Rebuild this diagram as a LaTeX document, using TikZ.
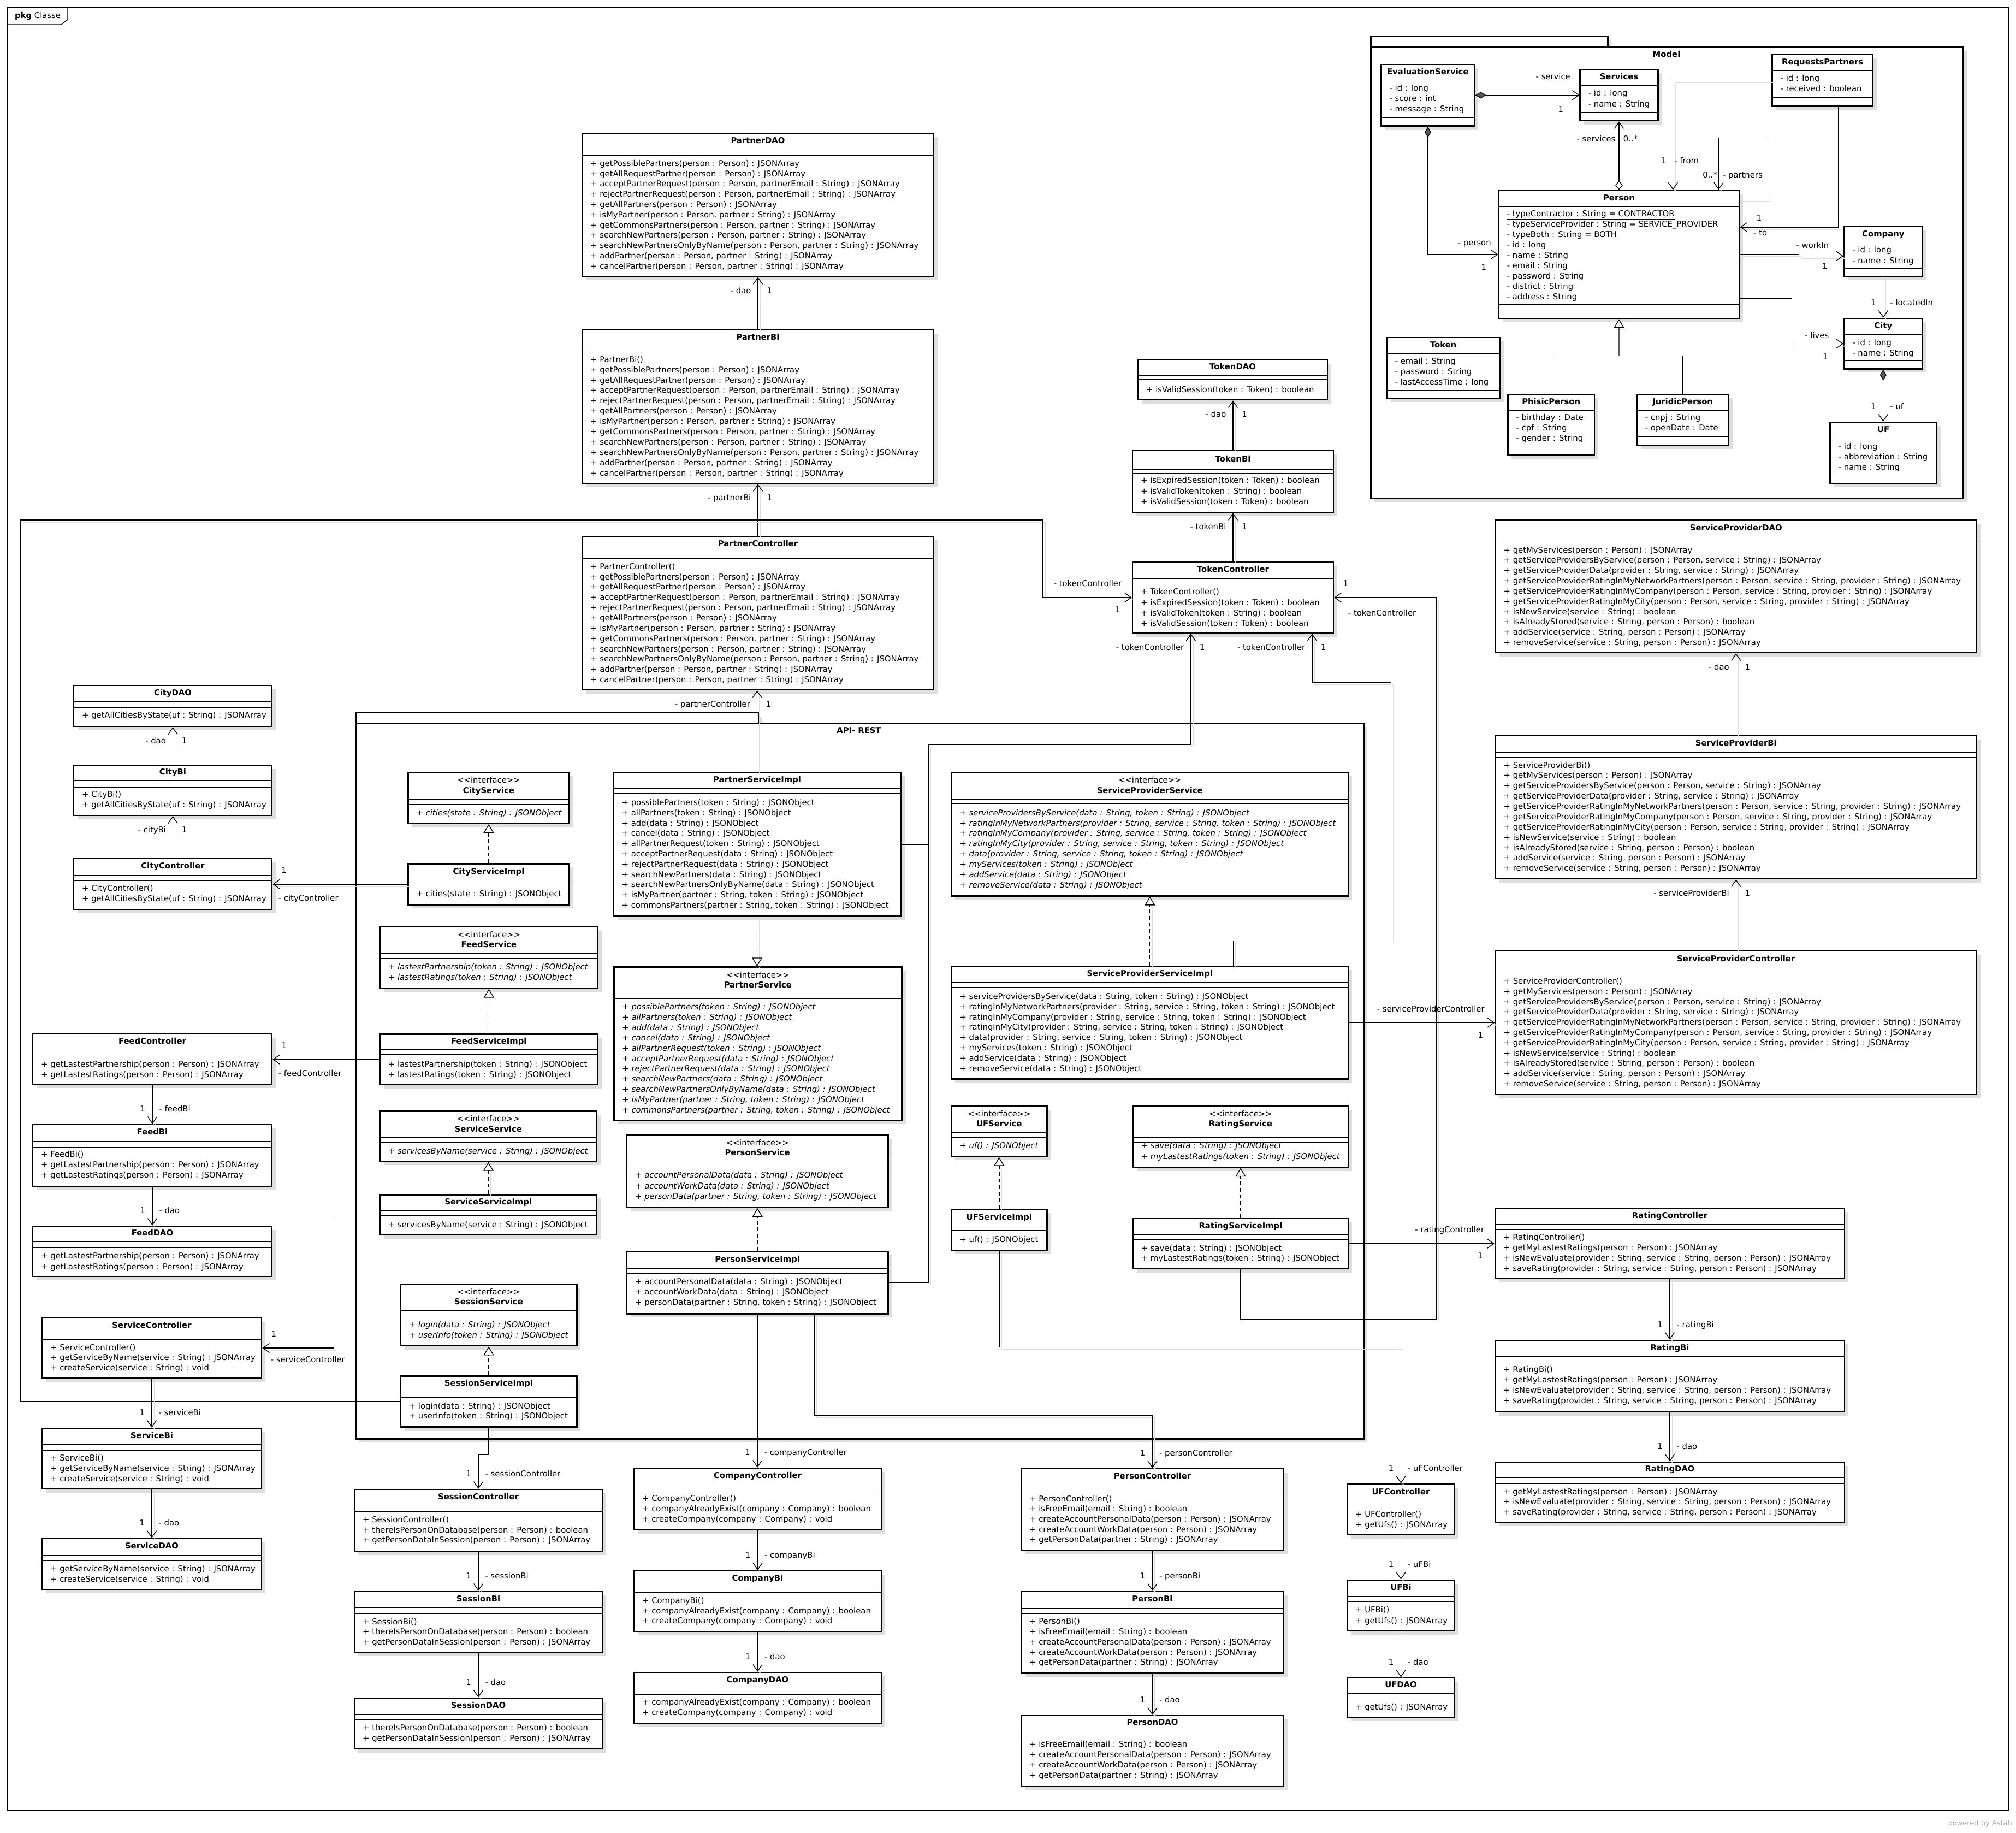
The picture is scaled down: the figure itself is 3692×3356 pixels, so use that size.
\documentclass[tikz,border=0pt]{standalone}
\usepackage{fontspec}
\setmainfont{DejaVu Sans}
\usetikzlibrary{arrows.meta,shadows}

\newcommand{\umlfont}{\fontsize{14.8}{18}\selectfont}
\newcommand{\umlclass}[8]{%
  \node[classbox, minimum width=#4pt-#2pt, minimum height=#5pt-#3pt] (#1) at ({(#2+#4)/2},{(#3+#5)/2}) {};
  \draw[sepline] (#2,#6) -- (#4,#6);
  \draw[sepline] (#2,#7) -- (#4,#7);
  \node[nametext] (#1-t) at ({(#2+#4)/2},{(#3+#6)/2}) {#8};
}
\newcommand{\umliface}[8]{%
  \node[classbox, minimum width=#4pt-#2pt, minimum height=#5pt-#3pt] (#1) at ({(#2+#4)/2},{(#3+#5)/2}) {};
  \draw[sepline] (#2,#6) -- (#4,#6);
  \draw[sepline] (#2,#7) -- (#4,#7);
  \node[stereotext] (#1-s) at ({(#2+#4)/2},{#3+15.5}) {<{}<interface>{}>};
  \node[nametext] (#1-t) at ({(#2+#4)/2},{#3+34}) {#8};
}
\newcommand{\umllines}[6]{%
  \foreach \op [count=\i] in {#6}
    \node[#5] (#1-\i) at ({#2+15},{#3+#4*(\i-1)}) {\op};
}

\begin{document}
\begin{tikzpicture}[x=1pt, y=-1pt,
    classbox/.style={draw, line width=2.6pt, fill=white, inner sep=0pt,
      drop shadow={shadow xshift=7pt, shadow yshift=-7pt, fill=black!13, opacity=1}},
    sepline/.style={line width=1pt},
    nametext/.style={font=\umlfont\bfseries, inner sep=0pt, text height=10.8pt, text depth=3pt},
    stereotext/.style={font=\umlfont, inner sep=0pt, text height=10.8pt, text depth=3pt},
    optext/.style={font=\umlfont, anchor=west, inner sep=0pt, text height=10.8pt, text depth=3pt},
    abstext/.style={optext, font=\umlfont\itshape},
    lbltext/.style={font=\umlfont, inner sep=0pt, text height=10.8pt, text depth=3pt},
    conn/.style={line width=1.3pt, preaction={draw=black!13, transform canvas={shift={(4pt,-4pt)}}}},
    assoc/.style={conn, -{Straight Barb[length=12pt, width=17pt]}},
    realize/.style={conn, dash pattern=on 7pt off 5pt, -{Triangle[open, length=16pt, width=19pt]}},
    gener/.style={conn, -{Triangle[open, length=16pt, width=19pt]}},
    compo/.style={line width=1.3pt, {Diamond[fill=black!65, length=20pt, width=12pt]}-{Straight Barb[length=12pt, width=17pt]}},
    aggr/.style={line width=1.3pt, {Diamond[open, length=17pt, width=14pt]}-{Straight Barb[length=12pt, width=17pt]}},
    upname/.style={lbltext, pos=1, anchor=east, xshift=-12pt, yshift=-26pt},
    upmult/.style={lbltext, pos=1, xshift=21pt, yshift=-26pt},
    downmult/.style={lbltext, pos=1, xshift=-18pt, yshift=26pt},
    downname/.style={lbltext, pos=1, anchor=west, xshift=12pt, yshift=26pt},
    leftmult/.style={lbltext, pos=1, xshift=21pt, yshift=24pt},
    leftname/.style={lbltext, pos=1, anchor=west, xshift=10pt, yshift=-27pt},
    rightname/.style={lbltext, pos=1, anchor=east, xshift=-18pt, yshift=24pt},
    rightmult/.style={lbltext, pos=1, xshift=-26pt, yshift=-24pt},
    endlbl/.style 2 args={lbltext, pos=1, xshift=#1, yshift=#2}]

  \useasboundingbox (0,0) rectangle (3692,3356);
  \draw[line width=1.3pt] (13,13.5) rectangle (3678,3314);
  \draw[line width=1.3pt] (13,45) -- (112,45) -- (124,36) -- (124,13.5);
  \node[lbltext, anchor=west] (frametitle) at (27,30) {\textbf{pkg} Classe};
  \node[lbltext, anchor=east, text=black!35, font=\fontsize{13}{15}\selectfont] (astahnote) at (3685,3339) {powered by Astah};

  \node[classbox, minimum width=434pt, minimum height=20pt, anchor=north west] (modeltab) at (2509,65) {};
  \node[classbox, minimum width=1085pt, minimum height=826pt, anchor=north west] (model) at (2509,85) {};
  \node[nametext] (modeltitle) at (3052,101) {Model};
  \node[classbox, minimum width=738pt, minimum height=20pt, anchor=north west] (apitab) at (650,1303.5) {};
  \node[classbox, minimum width=1846pt, minimum height=1310pt, anchor=north west] (api) at (650,1323) {};
  \node[nametext] (apititle) at (1573,1339) {API- REST};

  \umlclass{EvaluationService}{2529.4}{118}{2700.3}{230.6}{146.8}{215}{EvaluationService}
  \umllines{EvaluationService}{2529.4}{162.8}{19}{optext}{{- id : long}, {- score : int}, {- message : String}}
  \umlclass{Services}{2893.7}{127.2}{3036.2}{220.8}{156.5}{205}{Services}
  \umllines{Services}{2893.7}{172}{19.5}{optext}{{- id : long}, {- name : String}}
  \umlclass{RequestsPartners}{3245.6}{99.7}{3429.5}{193.8}{130}{178}{RequestsPartners}
  \umllines{RequestsPartners}{3245.6}{145}{19}{optext}{{- id : long}, {- received : boolean}}
  \umlclass{Person}{2744.6}{348.8}{3185.3}{583}{378}{557.7}{Person}
  \umllines{Person}{2744.6}{393}{18.94}{optext}{{\underline{- typeContractor : String = CONTRACTOR}},
    {\underline{- typeServiceProvider : String = SERVICE\_PROVIDER}}, {\underline{- typeBoth : String = BOTH}},
    {- id : long}, {- name : String}, {- email : String}, {- password : String}, {- district : String}, {- address : String}}
  \umlclass{Company}{3377.2}{414.2}{3520.4}{506}{444}{491}{Company}
  \umllines{Company}{3377.2}{459}{19.5}{optext}{{- id : long}, {- name : String}}
  \umlclass{City}{3377.2}{583}{3520.4}{675.4}{612}{660}{City}
  \umllines{City}{3377.2}{628.3}{19}{optext}{{- id : long}, {- name : String}}
  \umlclass{Token}{2539.6}{618}{2746.8}{729.4}{647}{714.4}{Token}
  \umllines{Token}{2539.6}{662.2}{19}{optext}{{- email : String}, {- password : String}, {- lastAccessTime : long}}
  \umlclass{PhisicPerson}{2761.4}{722}{2919.9}{833.3}{751.7}{818.9}{PhisicPerson}
  \umllines{PhisicPerson}{2761.4}{766}{19}{optext}{{- birthday : Date}, {- cpf : String}, {- gender : String}}
  \umlclass{JuridicPerson}{2997.7}{722}{3165.6}{815}{751.7}{799.4}{JuridicPerson}
  \umllines{JuridicPerson}{2997.7}{766}{19}{optext}{{- cnpj : String}, {- openDate : Date}}
  \umlclass{UF}{3351.7}{773}{3546.6}{885}{803}{869.4}{UF}
  \umllines{UF}{3351.7}{818.3}{19}{optext}{{- id : long}, {- abbreviation : String}, {- name : String}}

  \umlclass{PartnerDAO}{1066}{244}{1710}{506}{274}{284}{PartnerDAO}
  \umllines{PartnerDAO}{1066}{300.3}{18.82}{optext}{{+ getPossiblePartners(person : Person) : JSONArray},
    {+ getAllRequestPartner(person : Person) : JSONArray},
    {+ acceptPartnerRequest(person : Person, partnerEmail : String) : JSONArray},
    {+ rejectPartnerRequest(person : Person, partnerEmail : String) : JSONArray},
    {+ getAllPartners(person : Person) : JSONArray},
    {+ isMyPartner(person : Person, partner : String) : JSONArray},
    {+ getCommonsPartners(person : Person, partner : String) : JSONArray},
    {+ searchNewPartners(person : Person, partner : String) : JSONArray},
    {+ searchNewPartnersOnlyByName(person : Person, partner : String) : JSONArray},
    {+ addPartner(person : Person, partner : String) : JSONArray},
    {+ cancelPartner(person : Person, partner : String) : JSONArray}}
  \umlclass{PartnerBi}{1066}{604}{1710}{885}{633}{644}{PartnerBi}
  \umllines{PartnerBi}{1066}{659.3}{18.93}{optext}{{+ PartnerBi()},
    {+ getPossiblePartners(person : Person) : JSONArray},
    {+ getAllRequestPartner(person : Person) : JSONArray},
    {+ acceptPartnerRequest(person : Person, partnerEmail : String) : JSONArray},
    {+ rejectPartnerRequest(person : Person, partnerEmail : String) : JSONArray},
    {+ getAllPartners(person : Person) : JSONArray},
    {+ isMyPartner(person : Person, partner : String) : JSONArray},
    {+ getCommonsPartners(person : Person, partner : String) : JSONArray},
    {+ searchNewPartners(person : Person, partner : String) : JSONArray},
    {+ searchNewPartnersOnlyByName(person : Person, partner : String) : JSONArray},
    {+ addPartner(person : Person, partner : String) : JSONArray},
    {+ cancelPartner(person : Person, partner : String) : JSONArray}}
  \umlclass{PartnerController}{1066}{982}{1710}{1263}{1012}{1022}{PartnerController}
  \umllines{PartnerController}{1066}{1038.3}{18.85}{optext}{{+ PartnerController()},
    {+ getPossiblePartners(person : Person) : JSONArray},
    {+ getAllRequestPartner(person : Person) : JSONArray},
    {+ acceptPartnerRequest(person : Person, partnerEmail : String) : JSONArray},
    {+ rejectPartnerRequest(person : Person, partnerEmail : String) : JSONArray},
    {+ getAllPartners(person : Person) : JSONArray},
    {+ isMyPartner(person : Person, partner : String) : JSONArray},
    {+ getCommonsPartners(person : Person, partner : String) : JSONArray},
    {+ searchNewPartners(person : Person, partner : String) : JSONArray},
    {+ searchNewPartnersOnlyByName(person : Person, partner : String) : JSONArray},
    {+ addPartner(person : Person, partner : String) : JSONArray},
    {+ cancelPartner(person : Person, partner : String) : JSONArray}}

  \umlclass{TokenDAO}{2084}{659}{2431}{732}{687}{694}{TokenDAO}
  \umllines{TokenDAO}{2084}{714.3}{19}{optext}{{+ isValidSession(token : Token) : boolean}}
  \umlclass{TokenBi}{2074}{825}{2442}{938}{859}{866}{TokenBi}
  \umllines{TokenBi}{2074}{881}{19.1}{optext}{{+ isExpiredSession(token : Token) : boolean},
    {+ isValidToken(token : String) : boolean}, {+ isValidSession(token : Token) : boolean}}
  \umlclass{TokenController}{2074}{1029}{2442}{1159}{1059}{1069}{TokenController}
  \umllines{TokenController}{2074}{1085}{19.1}{optext}{{+ TokenController()}, {+ isExpiredSession(token : Token) : boolean},
    {+ isValidToken(token : String) : boolean}, {+ isValidSession(token : Token) : boolean}}

  \umlclass{CityDAO}{135}{1255}{498}{1330}{1284}{1295}{CityDAO}
  \umllines{CityDAO}{135}{1310.9}{19}{optext}{{+ getAllCitiesByState(uf : String) : JSONArray}}
  \umlclass{CityBi}{135}{1401}{498}{1493}{1429}{1441}{CityBi}
  \umllines{CityBi}{135}{1456}{19}{optext}{{+ CityBi()}, {+ getAllCitiesByState(uf : String) : JSONArray}}
  \umlclass{CityController}{135}{1572}{498}{1665}{1602}{1612.5}{CityController}
  \umllines{CityController}{135}{1628}{18.9}{optext}{{+ CityController()}, {+ getAllCitiesByState(uf : String) : JSONArray}}
  \umlclass{FeedController}{60}{1893}{498}{1985}{1922}{1933}{FeedController}
  \umllines{FeedController}{60}{1949.2}{19}{optext}{{+ getLastestPartnership(person : Person) : JSONArray},
    {+ getLastestRatings(person : Person) : JSONArray}}
  \umlclass{FeedBi}{60}{2059}{498}{2172}{2089}{2100}{FeedBi}
  \umllines{FeedBi}{60}{2114.8}{18.95}{optext}{{+ FeedBi()}, {+ getLastestPartnership(person : Person) : JSONArray},
    {+ getLastestRatings(person : Person) : JSONArray}}
  \umlclass{FeedDAO}{60}{2245}{498}{2337}{2273}{2284}{FeedDAO}
  \umllines{FeedDAO}{60}{2300.7}{19.5}{optext}{{+ getLastestPartnership(person : Person) : JSONArray},
    {+ getLastestRatings(person : Person) : JSONArray}}
  \umlclass{ServiceController}{77}{2413}{479}{2523}{2442}{2452}{ServiceController}
  \umllines{ServiceController}{77}{2468.4}{18.5}{optext}{{+ ServiceController()},
    {+ getServiceByName(service : String) : JSONArray}, {+ createService(service : String) : void}}
  \umlclass{ServiceBi}{77}{2615}{479}{2726}{2644}{2655}{ServiceBi}
  \umllines{ServiceBi}{77}{2670.5}{18.85}{optext}{{+ ServiceBi()},
    {+ getServiceByName(service : String) : JSONArray}, {+ createService(service : String) : void}}
  \umlclass{ServiceDAO}{77}{2817}{479}{2910}{2847}{2857}{ServiceDAO}
  \umllines{ServiceDAO}{77}{2873.3}{19.2}{optext}{{+ getServiceByName(service : String) : JSONArray},
    {+ createService(service : String) : void}}

  \umlclass{SessionController}{649}{2727}{1103}{2840}{2757}{2767.5}{SessionController}
  \umllines{SessionController}{649}{2783.4}{18.8}{optext}{{+ SessionController()},
    {+ thereIsPersonOnDatabase(person : Person) : boolean}, {+ getPersonDataInSession(person : Person) : JSONArray}}
  \umlclass{SessionBi}{649}{2914}{1103}{3025}{2943.5}{2954.4}{SessionBi}
  \umllines{SessionBi}{649}{2970.3}{18.5}{optext}{{+ SessionBi()},
    {+ thereIsPersonOnDatabase(person : Person) : boolean}, {+ getPersonDataInSession(person : Person) : JSONArray}}
  \umlclass{SessionDAO}{649}{3109}{1103}{3202}{3139}{3148}{SessionDAO}
  \umllines{SessionDAO}{649}{3164.2}{19.1}{optext}{{+ thereIsPersonOnDatabase(person : Person) : boolean},
    {+ getPersonDataInSession(person : Person) : JSONArray}}
  \umlclass{CompanyController}{1161}{2688}{1614}{2801}{2718}{2729}{CompanyController}
  \umllines{CompanyController}{1161}{2744.5}{19.15}{optext}{{+ CompanyController()},
    {+ companyAlreadyExist(company : Company) : boolean}, {+ createCompany(company : Company) : void}}
  \umlclass{CompanyBi}{1161}{2876}{1614}{2987}{2905}{2915}{CompanyBi}
  \umllines{CompanyBi}{1161}{2931.4}{18.8}{optext}{{+ CompanyBi()},
    {+ companyAlreadyExist(company : Company) : boolean}, {+ createCompany(company : Company) : void}}
  \umlclass{CompanyDAO}{1161}{3062}{1614}{3155}{3092}{3102}{CompanyDAO}
  \umllines{CompanyDAO}{1161}{3117.6}{19.2}{optext}{{+ companyAlreadyExist(company : Company) : boolean},
    {+ createCompany(company : Company) : void}}
  \umlclass{PersonController}{1870}{2689}{2351}{2838}{2718}{2729}{PersonController}
  \umllines{PersonController}{1870}{2745.2}{18.65}{optext}{{+ PersonController()}, {+ isFreeEmail(email : String) : boolean},
    {+ createAccountPersonalData(person : Person) : JSONArray}, {+ createAccountWorkData(person : Person) : JSONArray},
    {+ getPersonData(partner : String) : JSONArray}}
  \umlclass{PersonBi}{1870}{2914}{2351}{3063}{2944}{2954}{PersonBi}
  \umllines{PersonBi}{1870}{2969.7}{18.8}{optext}{{+ PersonBi()}, {+ isFreeEmail(email : String) : boolean},
    {+ createAccountPersonalData(person : Person) : JSONArray}, {+ createAccountWorkData(person : Person) : JSONArray},
    {+ getPersonData(partner : String) : JSONArray}}
  \umlclass{PersonDAO}{1870}{3141}{2351}{3271}{3169}{3180}{PersonDAO}
  \umllines{PersonDAO}{1870}{3194.8}{18.93}{optext}{{+ isFreeEmail(email : String) : boolean},
    {+ createAccountPersonalData(person : Person) : JSONArray}, {+ createAccountWorkData(person : Person) : JSONArray},
    {+ getPersonData(partner : String) : JSONArray}}
  \umlclass{UFController}{2467}{2717}{2664}{2810}{2748}{2757}{UFController}
  \umllines{UFController}{2467}{2773.5}{18.9}{optext}{{+ UFController()}, {+ getUfs() : JSONArray}}
  \umlclass{UFBi}{2467}{2893}{2664}{2986}{2922}{2932}{UFBi}
  \umllines{UFBi}{2467}{2948.9}{19.6}{optext}{{+ UFBi()}, {+ getUfs() : JSONArray}}
  \umlclass{UFDAO}{2467}{3072}{2664}{3144}{3100}{3112}{UFDAO}
  \umllines{UFDAO}{2467}{3126.3}{19}{optext}{{+ getUfs() : JSONArray}}

  \umlclass{RatingController}{2738}{2212}{3378}{2341}{2241}{2251}{RatingController}
  \umllines{RatingController}{2738}{2267}{18.7}{optext}{{+ RatingController()}, {+ getMyLastestRatings(person : Person) : JSONArray},
    {+ isNewEvaluate(provider : String, service : String, person : Person) : JSONArray},
    {+ saveRating(provider : String, service : String, person : Person) : JSONArray}}
  \umlclass{RatingBi}{2738}{2454}{3378}{2585}{2483}{2493}{RatingBi}
  \umllines{RatingBi}{2738}{2509}{18.93}{optext}{{+ RatingBi()}, {+ getMyLastestRatings(person : Person) : JSONArray},
    {+ isNewEvaluate(provider : String, service : String, person : Person) : JSONArray},
    {+ saveRating(provider : String, service : String, person : Person) : JSONArray}}
  \umlclass{RatingDAO}{2738}{2677}{3378}{2787}{2705}{2716}{RatingDAO}
  \umllines{RatingDAO}{2738}{2732.1}{18.95}{optext}{{+ getMyLastestRatings(person : Person) : JSONArray},
    {+ isNewEvaluate(provider : String, service : String, person : Person) : JSONArray},
    {+ saveRating(provider : String, service : String, person : Person) : JSONArray}}

  \umlclass{ServiceProviderDAO}{2738.5}{952}{3620}{1195}{983}{992}{ServiceProviderDAO}
  \umllines{ServiceProviderDAO}{2738.5}{1008.2}{18.82}{optext}{{+ getMyServices(person : Person) : JSONArray},
    {+ getServiceProvidersByService(person : Person, service : String) : JSONArray},
    {+ getServiceProviderData(provider : String, service : String) : JSONArray},
    {+ getServiceProviderRatingInMyNetworkPartners(person : Person, service : String, provider : String) : JSONArray},
    {+ getServiceProviderRatingInMyCompany(person : Person, service : String, provider : String) : JSONArray},
    {+ getServiceProviderRatingInMyCity(person : Person, service : String, provider : String) : JSONArray},
    {+ isNewService(service : String) : boolean},
    {+ isAlreadyStored(service : String, person : Person) : boolean},
    {+ addService(service : String, person : Person) : JSONArray},
    {+ removeService(service : String, person : Person) : JSONArray}}
  \umlclass{ServiceProviderBi}{2738.5}{1347}{3620}{1609}{1377}{1386}{ServiceProviderBi}
  \umllines{ServiceProviderBi}{2738.5}{1402.2}{18.87}{optext}{{+ ServiceProviderBi()},
    {+ getMyServices(person : Person) : JSONArray},
    {+ getServiceProvidersByService(person : Person, service : String) : JSONArray},
    {+ getServiceProviderData(provider : String, service : String) : JSONArray},
    {+ getServiceProviderRatingInMyNetworkPartners(person : Person, service : String, provider : String) : JSONArray},
    {+ getServiceProviderRatingInMyCompany(person : Person, service : String, provider : String) : JSONArray},
    {+ getServiceProviderRatingInMyCity(person : Person, service : String, provider : String) : JSONArray},
    {+ isNewService(service : String) : boolean},
    {+ isAlreadyStored(service : String, person : Person) : boolean},
    {+ addService(service : String, person : Person) : JSONArray},
    {+ removeService(service : String, person : Person) : JSONArray}}
  \umlclass{ServiceProviderController}{2738.5}{1741}{3620}{2004}{1772}{1781}{ServiceProviderController}
  \umllines{ServiceProviderController}{2738.5}{1797.5}{18.8}{optext}{{+ ServiceProviderController()},
    {+ getMyServices(person : Person) : JSONArray},
    {+ getServiceProvidersByService(person : Person, service : String) : JSONArray},
    {+ getServiceProviderData(provider : String, service : String) : JSONArray},
    {+ getServiceProviderRatingInMyNetworkPartners(person : Person, service : String, provider : String) : JSONArray},
    {+ getServiceProviderRatingInMyCompany(person : Person, service : String, provider : String) : JSONArray},
    {+ getServiceProviderRatingInMyCity(person : Person, service : String, provider : String) : JSONArray},
    {+ isNewService(service : String) : boolean},
    {+ isAlreadyStored(service : String, person : Person) : boolean},
    {+ addService(service : String, person : Person) : JSONArray},
    {+ removeService(service : String, person : Person) : JSONArray}}

  \umliface{CityService}{747.4}{1414.3}{1042.6}{1507.6}{1463.5}{1472.6}{CityService}
  \umllines{CityService}{747.4}{1489.4}{19}{abstext}{{+ cities(state : String) : JSONObject}}
  \umlclass{CityServiceImpl}{747.4}{1581.3}{1042.6}{1656.4}{1611}{1620.6}{CityServiceImpl}
  \umllines{CityServiceImpl}{747.4}{1637.4}{19}{optext}{{+ cities(state : String) : JSONObject}}
  \umliface{FeedService}{695.7}{1697}{1095}{1809.3}{1745.5}{1754.6}{FeedService}
  \umllines{FeedService}{695.7}{1772}{19}{abstext}{{+ lastestPartnership(token : String) : JSONObject},
    {+ lastestRatings(token : String) : JSONObject}}
  \umlclass{FeedServiceImpl}{695.7}{1893.5}{1095}{1986}{1921.5}{1930.7}{FeedServiceImpl}
  \umllines{FeedServiceImpl}{695.7}{1949.6}{18.9}{optext}{{+ lastestPartnership(token : String) : JSONObject},
    {+ lastestRatings(token : String) : JSONObject}}
  \umliface{ServiceService}{695.7}{2034.5}{1093}{2126.4}{2082.2}{2091.3}{ServiceService}
  \umllines{ServiceService}{695.7}{2108.1}{19}{abstext}{{+ servicesByName(service : String) : JSONObject}}
  \umlclass{ServiceServiceImpl}{695.7}{2187.4}{1093}{2261}{2216.2}{2225.3}{ServiceServiceImpl}
  \umllines{ServiceServiceImpl}{695.7}{2243.5}{19}{optext}{{+ servicesByName(service : String) : JSONObject}}
  \umliface{SessionService}{733.6}{2351}{1056.4}{2464}{2399.5}{2409}{SessionService}
  \umllines{SessionService}{733.6}{2426.3}{19.1}{abstext}{{+ login(data : String) : JSONObject},
    {+ userInfo(token : String) : JSONObject}}
  \umlclass{SessionServiceImpl}{733.6}{2519.4}{1056.4}{2612.5}{2548}{2558.3}{SessionServiceImpl}
  \umllines{SessionServiceImpl}{733.6}{2575.5}{18.5}{optext}{{+ login(data : String) : JSONObject},
    {+ userInfo(token : String) : JSONObject}}
  \umlclass{PartnerServiceImpl}{1123.5}{1414.3}{1649.5}{1677.4}{1443.8}{1452.9}{PartnerServiceImpl}
  \umllines{PartnerServiceImpl}{1123.5}{1470.5}{18.8}{optext}{{+ possiblePartners(token : String) : JSONObject},
    {+ allPartners(token : String) : JSONObject}, {+ add(data : String) : JSONObject},
    {+ cancel(data : String) : JSONObject}, {+ allPartnerRequest(token : String) : JSONObject},
    {+ acceptPartnerRequest(data : String) : JSONObject}, {+ rejectPartnerRequest(data : String) : JSONObject},
    {+ searchNewPartners(data : String) : JSONObject}, {+ searchNewPartnersOnlyByName(data : String) : JSONObject},
    {+ isMyPartner(partner : String, token : String) : JSONObject},
    {+ commonsPartners(partner : String, token : String) : JSONObject}}
  \umliface{PartnerService}{1124.2}{1770.7}{1651.5}{2051.3}{1819.1}{1828.2}{PartnerService}
  \umllines{PartnerService}{1124.2}{1844.4}{18.94}{abstext}{{+ possiblePartners(token : String) : JSONObject},
    {+ allPartners(token : String) : JSONObject}, {+ add(data : String) : JSONObject},
    {+ cancel(data : String) : JSONObject}, {+ allPartnerRequest(token : String) : JSONObject},
    {+ acceptPartnerRequest(data : String) : JSONObject}, {+ rejectPartnerRequest(data : String) : JSONObject},
    {+ searchNewPartners(data : String) : JSONObject}, {+ searchNewPartnersOnlyByName(data : String) : JSONObject},
    {+ isMyPartner(partner : String, token : String) : JSONObject},
    {+ commonsPartners(partner : String, token : String) : JSONObject}}
  \umliface{PersonService}{1148}{2078}{1626.3}{2210.6}{2127.8}{2136.2}{PersonService}
  \umllines{PersonService}{1148}{2153}{19.3}{abstext}{{+ accountPersonalData(data : String) : JSONObject},
    {+ accountWorkData(data : String) : JSONObject}, {+ personData(partner : String, token : String) : JSONObject}}
  \umlclass{PersonServiceImpl}{1148}{2291.2}{1626.3}{2405.3}{2322}{2331.2}{PersonServiceImpl}
  \umllines{PersonServiceImpl}{1148}{2347.4}{18.95}{optext}{{+ accountPersonalData(data : String) : JSONObject},
    {+ accountWorkData(data : String) : JSONObject}, {+ personData(partner : String, token : String) : JSONObject}}
  \umliface{ServiceProviderService}{1742.3}{1414.3}{2469.3}{1640.2}{1463.5}{1471.9}{ServiceProviderService}
  \umllines{ServiceProviderService}{1742.3}{1489.4}{18.84}{abstext}{{+ serviceProvidersByService(data : String, token : String) : JSONObject},
    {+ ratingInMyNetworkPartners(provider : String, service : String, token : String) : JSONObject},
    {+ ratingInMyCompany(provider : String, service : String, token : String) : JSONObject},
    {+ ratingInMyCity(provider : String, service : String, token : String) : JSONObject},
    {+ data(provider : String, service : String, token : String) : JSONObject},
    {+ myServices(token : String) : JSONObject}, {+ addService(data : String) : JSONObject},
    {+ removeService(data : String) : JSONObject}}
  \umlclass{ServiceProviderServiceImpl}{1742.3}{1769.3}{2469.3}{1975.6}{1798.8}{1807.9}{ServiceProviderServiceImpl}
  \umllines{ServiceProviderServiceImpl}{1742.3}{1825.4}{18.84}{optext}{{+ serviceProvidersByService(data : String, token : String) : JSONObject},
    {+ ratingInMyNetworkPartners(provider : String, service : String, token : String) : JSONObject},
    {+ ratingInMyCompany(provider : String, service : String, token : String) : JSONObject},
    {+ ratingInMyCity(provider : String, service : String, token : String) : JSONObject},
    {+ data(provider : String, service : String, token : String) : JSONObject},
    {+ myServices(token : String) : JSONObject}, {+ addService(data : String) : JSONObject},
    {+ removeService(data : String) : JSONObject}}
  \umliface{UFService}{1742.3}{2024.7}{1917.4}{2117.3}{2073.8}{2082.2}{UFService}
  \umllines{UFService}{1742.3}{2099}{19}{abstext}{{+ uf() : JSONObject}}
  \umlclass{UFServiceImpl}{1742.3}{2214}{1917.4}{2289.1}{2244.2}{2252.6}{UFServiceImpl}
  \umllines{UFServiceImpl}{1742.3}{2270.2}{19}{optext}{{+ uf() : JSONObject}}
  \umliface{RatingService}{2074.6}{2024.7}{2469.3}{2136.9}{2082.9}{2091.3}{RatingService}
  \umllines{RatingService}{2074.6}{2099}{19.7}{abstext}{{+ save(data : String) : JSONObject},
    {+ myLastestRatings(token : String) : JSONObject}}
  \umlclass{RatingServiceImpl}{2074.6}{2230.9}{2469.3}{2322.8}{2260.4}{2269.5}{RatingServiceImpl}
  \umllines{RatingServiceImpl}{2074.6}{2286.3}{18.3}{optext}{{+ save(data : String) : JSONObject},
    {+ myLastestRatings(token : String) : JSONObject}}

  \coordinate (frombend) at (3063.8,146.8);
  \coordinate (ptA) at (3237.6,364.3);
  \coordinate (ptB) at (3147.4,252.4);
  \coordinate (tobend) at (3367,416);
  \coordinate (workA) at (3294.3,465.3);
  \coordinate (workB) at (3294.3,468.8);
  \coordinate (livesA) at (3281.2,546.8);
  \coordinate (genjoin) at (2965,651.3);
  \coordinate (svcbend) at (611.3,2468);
  \coordinate (sesbend) at (876,2662.9);
  \coordinate (tokA) at (37.7,952);
  \coordinate (tokB) at (1910,1094);
  \coordinate (psibend) at (1700,1363);
  \coordinate (tokC) at (2180.8,1363);
  \coordinate (spA) at (2258.4,1722.3);
  \coordinate (spC) at (2547.5,1249.3);
  \coordinate (spD) at (2402.9,1249.3);
  \coordinate (rtB) at (2630,2416);
  \coordinate (ufbend) at (2565.5,2466.5);
  \coordinate (pcbendA) at (1491.4,2591.5);

  \draw[compo] (EvaluationService.east) -- (Services.west |- EvaluationService.east)
    node[endlbl={-16pt}{33pt}, anchor=east] (serviceRole) {- service} node[endlbl={-34pt}{-27pt}] (serviceMult) {1};
  \draw[compo] (EvaluationService.south) |- (Person.west)
    node[endlbl={-12pt}{20pt}, anchor=east] (personRole) {- person} node[endlbl={-26pt}{-25pt}] (personMult) {1};
  \draw[aggr] (Person.north) -- (Services.south)
    node[endlbl={-6pt}{-33pt}, anchor=east] (servicesRole) {- services} node[endlbl={21pt}{-33pt}] (servicesMult) {0..*};
  \draw[assoc] (RequestsPartners.west |- frombend) -- (frombend) -- (Person.north -| frombend)
    node[endlbl={-18pt}{52pt}] (fromMult) {1} node[endlbl={2pt}{52pt}, anchor=west] (fromRole) {- from};
  \draw[assoc] (Person.east |- ptA) -- (ptA) |- (ptB) -- (Person.north -| ptB)
    node[endlbl={-16pt}{26pt}] (partnersMult) {0..*} node[endlbl={7pt}{26pt}, anchor=west] (partnersRole) {- partners};
  \draw[assoc] (RequestsPartners.south -| tobend) -- (tobend) -- (Person.east |- tobend)
    node[endlbl={35pt}{15pt}] (toMult) {1} node[endlbl={24pt}{-12pt}, anchor=west] (toRole) {- to};
  \draw[assoc] (Person.east |- workA) -- (workA) -- (workB) -- (Company.west |- workB)
    node[endlbl={-26pt}{18pt}, anchor=east] (workInRole) {- workIn} node[endlbl={-34pt}{-20pt}] (workInMult) {1};
  \draw[assoc] (Person.east |- livesA) -- (livesA) |- (City.west)
    node[endlbl={-26pt}{14pt}, anchor=east] (livesRole) {- lives} node[endlbl={-33pt}{-25pt}] (livesMult) {1};
  \draw[assoc] (Company.south) -- (City.north)
    node[downmult] (locatedInMult) {1} node[downname] (locatedInRole) {- locatedIn};
  \draw[compo] (City.south) -- (UF.north -| City.south)
    node[downmult] (ufMult) {1} node[downname] (ufRole) {- uf};
  \draw[conn] (PhisicPerson.north) |- (genjoin) -| (JuridicPerson.north);
  \draw[gener] (genjoin) -- (Person.south);

  \draw[assoc] (PartnerBi.north) -- (PartnerDAO.south)
    node[upname] (partnerDaoRole) {- dao} node[upmult] (partnerDaoMult) {1};
  \draw[assoc] (PartnerController.north) -- (PartnerBi.south)
    node[upname] (partnerBiRole) {- partnerBi} node[upmult] (partnerBiMult) {1};
  \draw[assoc] (PartnerServiceImpl.north) -- (PartnerController.south -| PartnerServiceImpl.north)
    node[upname] (partnerCtrlRole) {- partnerController} node[upmult] (partnerCtrlMult) {1};
  \draw[assoc] (TokenBi.north) -- (TokenDAO.south -| TokenBi.north)
    node[upname] (tokenDaoRole) {- dao} node[upmult] (tokenDaoMult) {1};
  \draw[assoc] (TokenController.north) -- (TokenBi.south)
    node[upname] (tokenBiRole) {- tokenBi} node[upmult] (tokenBiMult) {1};
  \draw[assoc] (SessionServiceImpl.west) -| (tokA) -| (tokB) -- (TokenController.west)
    node[rightname] (tokenCtrlRoleA) {- tokenController} node[rightmult] (tokenCtrlMultA) {1};
  \draw[assoc] (PersonServiceImpl.east) -| (psibend) -- (tokC) -- (TokenController.south -| tokC);
  \draw[assoc] (PartnerServiceImpl.east) -| (psibend) -- (tokC) -- (TokenController.south -| tokC)
    node[upname] (tokenCtrlRoleB) {- tokenController} node[upmult] (tokenCtrlMultB) {1};
  \draw[assoc] (ServiceProviderServiceImpl.north -| spA) -- (spA) -| (spC) -- (spD) -- (TokenController.south -| spD)
    node[upname] (tokenCtrlRoleC) {- tokenController} node[upmult] (tokenCtrlMultC) {1};
  \draw[assoc] (RatingServiceImpl.south) |- (rtB) |- (TokenController.east)
    node[leftmult] (tokenCtrlMultD) {1} node[endlbl={25pt}{-30pt}, anchor=west] (tokenCtrlRoleD) {- tokenController};

  \draw[assoc] (CityBi.north) -- (CityDAO.south)
    node[upname] (cityDaoRole) {- dao} node[upmult] (cityDaoMult) {1};
  \draw[assoc] (CityController.north) -- (CityBi.south)
    node[upname] (cityBiRole) {- cityBi} node[upmult] (cityBiMult) {1};
  \draw[assoc] (CityServiceImpl.west) -- (CityController.east |- CityServiceImpl.west)
    node[leftmult] (cityCtrlMult) {1} node[leftname] (cityCtrlRole) {- cityController};
  \draw[assoc] (FeedServiceImpl.west) -- (FeedController.east |- FeedServiceImpl.west)
    node[leftmult] (feedCtrlMult) {1} node[leftname] (feedCtrlRole) {- feedController};
  \draw[assoc] (FeedController.south) -- (FeedBi.north)
    node[downmult] (feedBiMult) {1} node[downname] (feedBiRole) {- feedBi};
  \draw[assoc] (FeedBi.south) -- (FeedDAO.north)
    node[downmult] (feedDaoMult) {1} node[downname] (feedDaoRole) {- dao};
  \draw[assoc] (ServiceServiceImpl.west) -| (svcbend) -- (ServiceController.east)
    node[leftmult] (serviceCtrlMult) {1} node[endlbl={15pt}{-23pt}, anchor=west] (serviceCtrlRole) {- serviceController};
  \draw[assoc] (ServiceController.south) -- (ServiceBi.north)
    node[downmult] (serviceBiMult) {1} node[downname] (serviceBiRole) {- serviceBi};
  \draw[assoc] (ServiceBi.south) -- (ServiceDAO.north)
    node[downmult] (serviceDaoMult) {1} node[downname] (serviceDaoRole) {- dao};

  \draw[assoc] (SessionServiceImpl.south) |- (sesbend) -- (SessionController.north)
    node[downmult] (sessionCtrlMult) {1} node[downname] (sessionCtrlRole) {- sessionController};
  \draw[assoc] (SessionController.south) -- (SessionBi.north)
    node[downmult] (sessionBiMult) {1} node[downname] (sessionBiRole) {- sessionBi};
  \draw[assoc] (SessionBi.south) -- (SessionDAO.north)
    node[downmult] (sessionDaoMult) {1} node[downname] (sessionDaoRole) {- dao};
  \draw[assoc] (PersonServiceImpl.south) -- (CompanyController.north -| PersonServiceImpl.south)
    node[downmult] (companyCtrlMult) {1} node[downname] (companyCtrlRole) {- companyController};
  \draw[assoc] (CompanyController.south) -- (CompanyBi.north)
    node[downmult] (companyBiMult) {1} node[downname] (companyBiRole) {- companyBi};
  \draw[assoc] (CompanyBi.south) -- (CompanyDAO.north)
    node[downmult] (companyDaoMult) {1} node[downname] (companyDaoRole) {- dao};
  \draw[assoc] (PersonServiceImpl.south -| pcbendA) -- (pcbendA) -| (PersonController.north)
    node[downmult] (personCtrlMult) {1} node[downname] (personCtrlRole) {- personController};
  \draw[assoc] (PersonController.south) -- (PersonBi.north)
    node[downmult] (personBiMult) {1} node[downname] (personBiRole) {- personBi};
  \draw[assoc] (PersonBi.south) -- (PersonDAO.north)
    node[downmult] (personDaoMult) {1} node[downname] (personDaoRole) {- dao};
  \draw[assoc] (UFServiceImpl.south) |- (ufbend) -- (UFController.north)
    node[downmult] (ufCtrlMult) {1} node[downname] (ufCtrlRole) {- uFController};
  \draw[assoc] (UFController.south) -- (UFBi.north)
    node[downmult] (ufBiMult) {1} node[downname] (ufBiRole) {- uFBi};
  \draw[assoc] (UFBi.south) -- (UFDAO.north)
    node[downmult] (ufDaoMult) {1} node[downname] (ufDaoRole) {- dao};

  \draw[assoc] (RatingServiceImpl.east) -- (RatingController.west |- RatingServiceImpl.east)
    node[rightname] (ratingCtrlRole) {- ratingController} node[rightmult] (ratingCtrlMult) {1};
  \draw[assoc] (RatingController.south) -- (RatingBi.north)
    node[downmult] (ratingBiMult) {1} node[downname] (ratingBiRole) {- ratingBi};
  \draw[assoc] (RatingBi.south) -- (RatingDAO.north)
    node[downmult] (ratingDaoMult) {1} node[downname] (ratingDaoRole) {- dao};
  \draw[assoc] (ServiceProviderServiceImpl.east) -- (ServiceProviderController.west |- ServiceProviderServiceImpl.east)
    node[rightname] (spCtrlRole) {- serviceProviderController} node[rightmult] (spCtrlMult) {1};
  \draw[assoc] (ServiceProviderController.north) -- (ServiceProviderBi.south)
    node[upname] (spBiRole) {- serviceProviderBi} node[upmult] (spBiMult) {1};
  \draw[assoc] (ServiceProviderBi.north) -- (ServiceProviderDAO.south)
    node[upname] (spDaoRole) {- dao} node[upmult] (spDaoMult) {1};

  \draw[realize] (CityServiceImpl.north) -- (CityService.south);
  \draw[realize] (FeedServiceImpl.north) -- (FeedService.south);
  \draw[realize] (ServiceServiceImpl.north) -- (ServiceService.south);
  \draw[realize] (SessionServiceImpl.north) -- (SessionService.south);
  \draw[realize] (PartnerServiceImpl.south) -- (PartnerService.north -| PartnerServiceImpl.south);
  \draw[realize] (PersonServiceImpl.north) -- (PersonService.south);
  \draw[realize] (ServiceProviderServiceImpl.north) -- (ServiceProviderService.south);
  \draw[realize] (UFServiceImpl.north) -- (UFService.south);
  \draw[realize] (RatingServiceImpl.north) -- (RatingService.south);
\end{tikzpicture}
\end{document}
